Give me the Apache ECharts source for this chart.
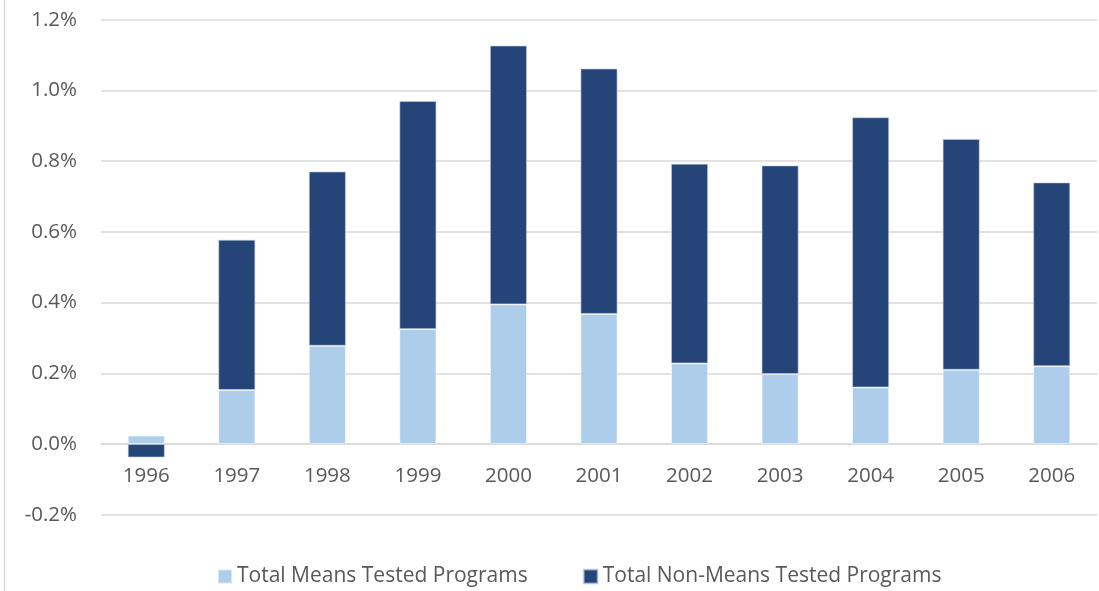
<!DOCTYPE html>
<html>
<head>
<meta charset="utf-8">
<script src="https://cdn.jsdelivr.net/npm/echarts@6/dist/echarts.min.js"></script>
<style>
html,body{margin:0;padding:0;background:#fff;}
#chart{width:1099px;height:591px;}
</style>
</head>
<body>
<div id="chart"></div>
<script>
var categories = ['1996','1997','1998','1999','2000','2001','2002','2003','2004','2005','2006'];
var meansTested = [0.024, 0.153, 0.278, 0.325, 0.395, 0.368, 0.228, 0.198, 0.160, 0.210, 0.220];
var nonMeansTested = [-0.038, 0.425, 0.493, 0.645, 0.732, 0.694, 0.565, 0.590, 0.764, 0.653, 0.520];
var seriesNames = ['Total Means Tested Programs', 'Total Non-Means Tested Programs'];

var FONT = '"Open Sans", Lato, sans-serif';
var Y_MIN = -0.2, Y_MAX = 1.2;
var gridTop = 19.7, gridBottom = 76.2, H = 591;
var plotH = H - gridTop - gridBottom;
// move the category axis up to the zero line
var zeroOffset = -plotH * (0 - Y_MIN) / (Y_MAX - Y_MIN);

var chart = echarts.init(document.getElementById('chart'), null, {renderer: 'canvas'});
chart.setOption({
  animation: false,
  backgroundColor: '#ffffff',
  grid: {left: 101, right: 2, top: gridTop, bottom: gridBottom, containLabel: false},
  legend: {
    top: 561,
    left: 212,
    itemWidth: 14,
    itemHeight: 14,
    itemGap: 55,
    icon: 'rect',
    textStyle: {fontFamily: FONT, fontSize: 21, color: '#595959'},
    data: seriesNames
  },
  xAxis: {
    type: 'category',
    data: categories,
    position: 'bottom',
    offset: zeroOffset,
    axisLine: {show: true, onZero: false, lineStyle: {color: '#d9d9d9', width: 1.5}},
    axisTick: {show: false},
    axisLabel: {fontFamily: FONT, fontSize: 20.5, color: '#595959', margin: 22}
  },
  yAxis: {
    type: 'value',
    min: Y_MIN,
    max: Y_MAX,
    interval: 0.2,
    axisLine: {show: false},
    axisTick: {show: false},
    splitLine: {lineStyle: {color: '#d9d9d9', width: 1.5}},
    axisLabel: {
      fontFamily: FONT, fontSize: 20.5, color: '#595959', margin: 24,
      formatter: function (v) { return (Math.round(v * 10) / 10).toFixed(1) + '%'; }
    }
  },
  series: [
    {
      name: seriesNames[0], type: 'bar', stack: 'total', data: meansTested,
      barWidth: '41%',
      itemStyle: {color: '#aecdea', borderColor: 'rgba(255,255,255,0.5)', borderWidth: 1}
    },
    {
      name: seriesNames[1], type: 'bar', stack: 'total', data: nonMeansTested,
      barWidth: '41%',
      itemStyle: {color: '#254477', borderColor: 'rgba(200,210,230,0.6)', borderWidth: 1}
    }
  ],
  graphic: [{
    type: 'line', silent: true,
    shape: {x1: 4.5, y1: 0, x2: 4.5, y2: 591},
    style: {stroke: '#d9d9d9', lineWidth: 1.5}
  }]
});
</script>
</body>
</html>
